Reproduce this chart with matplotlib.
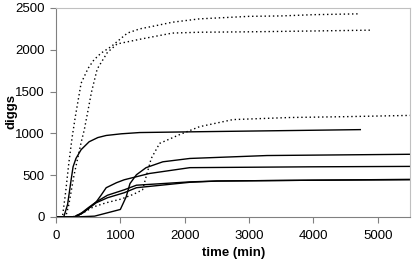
import matplotlib
matplotlib.use("Agg")
import matplotlib.pyplot as plt

plt.rcParams['font.family'] = ['Liberation Sans', 'DejaVu Sans']

# dotted curves (time in min, diggs)
t_a = [0, 100, 150, 200, 250, 300, 390, 500, 590, 700, 860, 1000, 1110, 1300, 1530, 1810, 2230, 3000, 3500, 4000, 4700]
d_a = [0, 0, 300, 650, 950, 1200, 1600, 1780, 1880, 1960, 2040, 2130, 2200, 2250, 2285, 2330, 2370, 2400, 2405, 2420, 2430]

t_b = [0, 150, 200, 280, 390, 440, 500, 550, 640, 800, 950, 1330, 1810, 2230, 3000, 4000, 4900]
d_b = [0, 0, 150, 500, 890, 1045, 1285, 1490, 1770, 1970, 2070, 2130, 2200, 2210, 2215, 2225, 2235]

t_c = [0, 250, 400, 580, 780, 1015, 1200, 1345, 1400, 1480, 1610, 1920, 2230, 2750, 3640, 4500, 5500]
d_c = [0, 0, 40, 120, 170, 215, 270, 325, 480, 700, 880, 985, 1080, 1165, 1190, 1200, 1215]

# solid curves
t_s1 = [0, 120, 180, 235, 265, 310, 390, 515, 650, 780, 1015, 1300, 2230, 3750, 4730]
d_s1 = [0, 0, 150, 445, 600, 700, 805, 900, 950, 975, 995, 1010, 1020, 1035, 1045]

t_s2 = [0, 300, 600, 700, 1000, 1090, 1150, 1250, 1400, 1660, 2080, 3280, 5500]
d_s2 = [0, 0, 10, 30, 90, 240, 400, 505, 590, 660, 700, 735, 750]

t_s3 = [0, 270, 350, 450, 550, 625, 700, 780, 940, 1060, 1450, 2080, 3950, 5500]
d_s3 = [0, 0, 20, 70, 130, 180, 260, 350, 410, 445, 520, 590, 600, 605]

t_s4 = [0, 280, 400, 500, 625, 800, 1060, 1250, 2080, 2500, 4000, 5500]
d_s4 = [0, 0, 50, 110, 180, 260, 325, 380, 420, 430, 440, 450]

t_s5 = [0, 300, 420, 520, 625, 800, 1060, 1250, 2080, 2500, 4000, 5500]
d_s5 = [0, 0, 50, 110, 170, 230, 290, 350, 415, 430, 440, 445]

fig = plt.figure(figsize=(4.14, 2.63), dpi=100)
ax = fig.add_axes([0.1353, 0.175, 0.8547, 0.7946])

for t, d in [(t_a, d_a), (t_b, d_b), (t_c, d_c)]:
    ax.plot(t, d, color='black', lw=1.0, ls=(0, (1, 2)))
for t, d in [(t_s1, d_s1), (t_s2, d_s2), (t_s3, d_s3), (t_s4, d_s4), (t_s5, d_s5)]:
    ax.plot(t, d, color='black', lw=1.0)

ax.set_xlim(0, 5500)
ax.set_ylim(0, 2500)
ax.set_xticks(range(0, 5001, 1000))
ax.set_yticks(range(0, 2501, 500))
ax.tick_params(labelsize=9.5, direction='out', length=4, color='#808080', width=0.8)
ax.tick_params(axis='y', pad=4)
ax.tick_params(axis='x', pad=5.5)

for s in ['left', 'bottom']:
    ax.spines[s].set_color('#808080')
for s in ['top', 'right']:
    ax.spines[s].set_color('#c0c0c0')

ax.set_xlabel("time (min)", fontsize=9.5, fontweight='bold', va='center')
ax.set_ylabel("diggs", fontsize=9.5, fontweight='bold', va='center')
ax.xaxis.set_label_coords(0.502, -0.173)
ax.yaxis.set_label_coords(-0.127, 0.505)

fig.savefig("out.png", dpi=100)
